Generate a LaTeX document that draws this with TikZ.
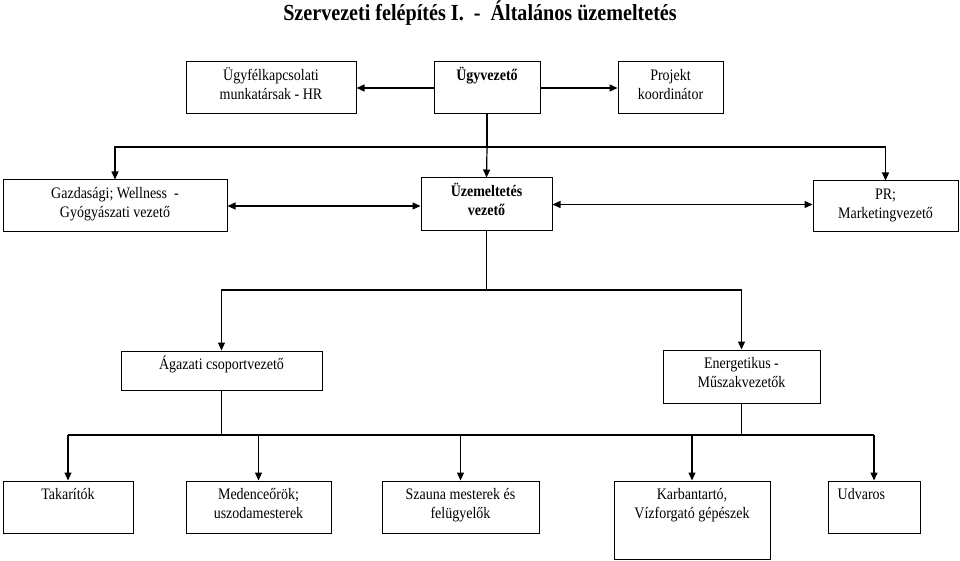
\documentclass[tikz,border=0pt]{standalone}
\usepackage{fontspec}
\setmainfont[FakeStretch=0.875]{Liberation Serif}
\usetikzlibrary{arrows.meta}
\newcommand\mystrut{\rule{0pt}{14pt}}
\begin{document}
\begin{tikzpicture}[x=1pt,y=-1pt,
  box/.style={draw, line width=1pt, inner sep=0pt},
  lbl/.style={anchor=north, align=center, inner sep=0pt, font=\fontsize{16}{18.5}\selectfont},
  conn/.style={line width=1.2pt},
  arr/.style={line width=1.2pt, -{Triangle[length=8pt,width=7pt]}},
  darr/.style={line width=1.2pt, {Triangle[length=8pt,width=7pt]}-{Triangle[length=8pt,width=7pt]}}]
\useasboundingbox (0,0) rectangle (960,561);
\fill[white] (0,0) rectangle (960,561);

\node[font=\bfseries\fontsize{23}{26}\selectfont, inner sep=0pt] (title) at (480,13) {Szervezeti felépítés I.~ -~ Általános üzemeltetés};

% boxes
\node[box, minimum width=170pt, minimum height=52pt] (hr)  at (271,88) {};
\node[box, minimum width=106pt, minimum height=52pt] (ceo) at (487,88) {};
\node[box, minimum width=105pt, minimum height=52pt] (pk)  at (670.5,88) {};
\node[box, minimum width=224pt, minimum height=52pt] (gaz) at (115,206) {};
\node[box, minimum width=131pt, minimum height=53pt] (uz)  at (486.5,204.5) {};
\node[box, minimum width=145pt, minimum height=51pt] (pr)  at (885.5,206.5) {};
\node[box, minimum width=201pt, minimum height=39pt] (ag)  at (221.5,370.5) {};
\node[box, minimum width=157pt, minimum height=53pt] (en)  at (741.5,376.5) {};
\node[box, minimum width=130pt, minimum height=52pt] (tak) at (68,507) {};
\node[box, minimum width=145pt, minimum height=52pt] (med) at (258.5,507) {};
\node[box, minimum width=157pt, minimum height=52pt] (sz)  at (460.5,507) {};
\node[box, minimum width=156pt, minimum height=78pt] (kb)  at (692,520) {};
\node[box, minimum width=92pt,  minimum height=52pt] (ud)  at (874,507) {};

% labels
\node[lbl] (hr-t)  at ([yshift=-5pt]hr.north)  {\mystrut Ügyfélkapcsolati\\munkatársak - HR};
\node[lbl] (ceo-t) at ([yshift=-5pt]ceo.north) {\mystrut\textbf{Ügyvezető}};
\node[lbl] (pk-t)  at ([yshift=-5pt]pk.north)  {\mystrut Projekt\\koordinátor};
\node[lbl] (gaz-t) at ([yshift=-5pt]gaz.north) {\mystrut Gazdasági; Wellness~ -\\Gyógyászati vezető};
\node[lbl] (uz-t)  at ([yshift=-5pt]uz.north)  {\mystrut\textbf{Üzemeltetés}\\\textbf{vezető}};
\node[lbl] (pr-t)  at ([yshift=-5pt]pr.north)  {\mystrut PR;\\Marketingvezető};
\node[lbl] (ag-t)  at ([yshift=-5pt]ag.north)  {\mystrut Ágazati csoportvezető};
\node[lbl] (en-t)  at ([yshift=-5pt]en.north)  {\mystrut Energetikus -\\Műszakvezetők};
\node[lbl] (tak-t) at ([yshift=-5pt]tak.north) {\mystrut Takarítók};
\node[lbl] (med-t) at ([yshift=-5pt]med.north) {\mystrut Medenceőrök;\\uszodamesterek};
\node[lbl] (sz-t)  at ([yshift=-5pt]sz.north)  {\mystrut Szauna mesterek és\\felügyelők};
\node[lbl] (kb-t)  at ([yshift=-5pt]kb.north)  {\mystrut Karbantartó,\\Vízforgató gépészek};
\node[lbl, anchor=north west] (ud-t) at ([xshift=10pt,yshift=-5pt]ud.north west) {\mystrut Udvaros};

% level 1 connectors
\draw[arr] (ceo.west) -- (hr.east);
\draw[arr] (ceo.east) -- (pk.west);
\coordinate (b1) at (487,147);
\draw[conn] (ceo.south) -- (b1);
\draw[arr] (b1) -| (gaz.north);
\draw[arr] (b1) -| (pr.north);
\draw[arr] (b1) -- (uz.north);

% level 2 connectors
\draw[darr] (gaz.east) -- (uz.west |- gaz.east);
\draw[darr] (uz.east) -- (pr.west |- uz.east);
\coordinate (b2) at (486.5,290);
\draw[conn] (uz.south) -- (b2);
\draw[arr] (b2) -| (ag.north);
\draw[arr] (b2) -| (en.north);

% level 3 connectors
\coordinate (b3l) at (68,435);
\coordinate (b3r) at (874,435);
\draw[conn] (b3l) -- (b3r);
\draw[conn] (ag.south) -- (ag.south |- b3l);
\draw[conn] (en.south) -- (en.south |- b3l);
\draw[arr] (tak.north |- b3l) -- (tak.north);
\draw[arr] (med.north |- b3l) -- (med.north);
\draw[arr] (sz.north |- b3l) -- (sz.north);
\draw[arr] (kb.north |- b3l) -- (kb.north);
\draw[arr] (ud.north |- b3l) -- (ud.north);
\end{tikzpicture}
\end{document}
